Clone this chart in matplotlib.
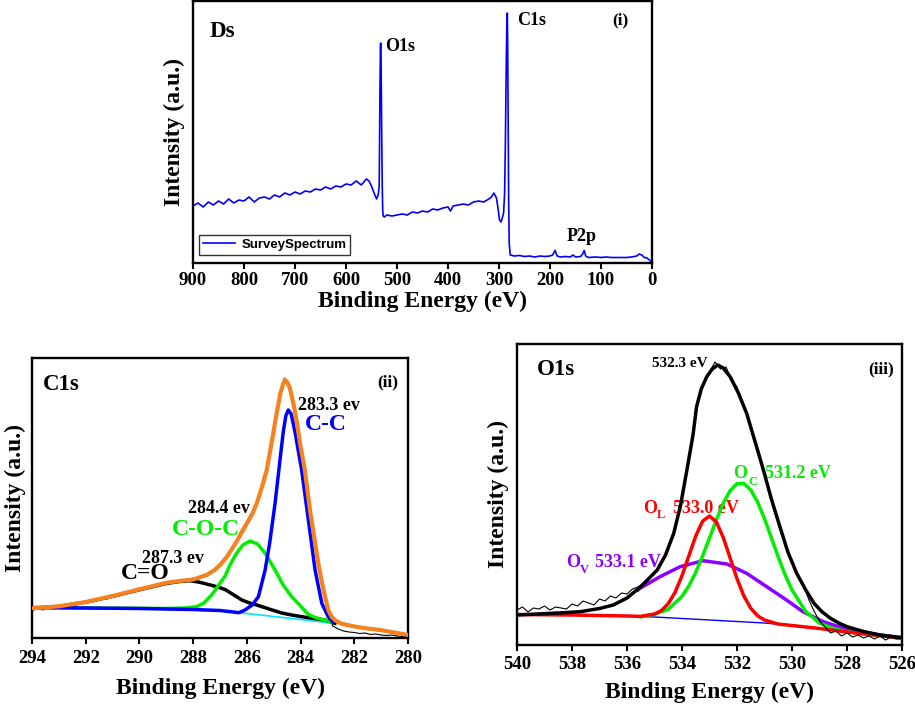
import numpy as np
import matplotlib
matplotlib.use("Agg")
import matplotlib.pyplot as plt

plt.rcParams['font.family'] = ['Liberation Serif', 'DejaVu Serif']
plt.rcParams['font.weight'] = 'bold'
plt.rcParams['axes.labelweight'] = 'bold'

# ---------------- (i) survey spectrum ----------------
survey_be = [900, 890, 880, 870, 860, 850, 840, 830, 820, 810, 800, 790, 780, 770, 760, 750,
             740, 730, 720, 710, 700, 690, 680, 670, 660, 650, 640, 630, 620, 610, 600, 590,
             580, 570, 560, 555, 550, 545, 540, 537, 535, 534.5, 533.5, 532.5, 532, 531, 530,
             529, 528, 527, 525, 520, 510, 500, 490, 480, 470, 460, 450, 440, 430, 420, 410,
             400, 395, 390, 380, 370, 360, 350, 340, 330, 320, 315, 310, 305, 302, 299, 296,
             293, 291, 289, 287.5, 286, 284.5, 283.7, 283, 282, 281, 280, 278, 270, 260, 250,
             240, 230, 220, 210, 200, 195, 190, 186, 180, 170, 160, 155, 150, 140, 136, 133,
             130, 125, 110, 100, 90, 80, 70, 60, 50, 40, 30, 25, 20, 15, 10, 5, 0]
survey_int = [57, 60, 56, 61, 58, 62, 59, 64, 60, 63, 62, 66, 61, 65, 66, 64,
              68, 66, 70, 68, 71, 69, 72, 71, 74, 73, 76, 74, 77, 76, 79, 78,
              82, 78, 84, 82, 77, 70, 64, 68, 76, 100, 170, 215, 220, 190, 130,
              80, 52, 47, 46, 48, 47, 48, 49, 48, 51, 50, 52, 51, 54, 53, 55,
              56, 52, 57, 58, 59, 58, 61, 62, 61, 64, 66, 70, 65, 55, 43, 41,
              46, 50, 70, 120, 190, 245, 250, 220, 140, 60, 20, 8, 7, 7.5, 6.5,
              7, 6, 7, 6.5, 7, 8, 12.5, 7, 6, 6.5, 6, 8, 6, 6.5, 9, 12.5,
              7, 5.5, 6, 5.5, 6, 5.5, 5.5, 5.5, 5.5, 6, 7, 9, 8, 5.5, 5, 3, 0.5]
survey_ticks = [900, 800, 700, 600, 500, 400, 300, 200, 100, 0]

# ---------------- (ii) C1s ----------------
c1s_ticks = [294, 292, 290, 288, 286, 284, 282, 280]
c1s_data_be = np.round(np.arange(294.0, 279.9, -0.2), 1)
c1s_data = [27, 30, 28, 31, 29, 32, 31, 34, 33, 36, 35, 38, 37, 40, 39, 43, 42, 45, 47, 46,
            50, 49, 52, 53, 55, 54, 57, 56, 58, 57, 60, 59, 62, 65, 67, 74, 79, 87, 97, 108,
            116, 126, 138, 155, 177, 206, 238, 260, 250, 226, 190, 160, 120, 85, 52, 27, 12,
            9, 7, 6, 5.5, 4.5, 5, 3.5, 4, 3, 2.5, 3, 2, 1.5, 1.5]
c1s_env_be = [294.0, 293.0, 292.0, 291.0, 290.0, 289.0, 288.5, 288.0, 287.5, 287.2, 287.0,
              286.75, 286.5, 286.25, 286.0, 285.8, 285.63, 285.45, 285.26, 285.08, 284.89,
              284.75, 284.65, 284.58, 284.5, 284.4, 284.27, 284.15, 284.02, 283.84, 283.65,
              283.5, 283.34, 283.2, 283.09, 282.97, 282.84, 282.7, 282.5, 282.0, 281.5, 281.0,
              280.5, 280.0]
c1s_env = [29.7, 31.7, 36, 42, 48.7, 55.2, 57, 58.5, 63, 68, 73, 81, 91.3, 102.5, 114.7, 124,
           134.7, 150, 168, 195, 224.7, 245, 254, 258, 256, 250, 234.7, 218, 194.7, 168, 128,
           102, 74.7, 55, 41.3, 28, 21, 17.5, 14.5, 11.5, 9.5, 7.8, 5.5, 3]
c1s_base_be = [294.0, 292.0, 290.0, 288.0, 287.0, 286.5, 286.0, 285.0, 284.0, 283.0, 282.7]
c1s_base = [30.5, 30.0, 29.3, 28.0, 27.0, 25.7, 24.5, 21.5, 18.5, 15.5, 14.7]
cc_be = [294.0, 290.0, 288.0, 287.0, 286.5, 286.3, 286.07, 285.8, 285.57, 285.32, 285.15,
         284.95, 284.8, 284.65, 284.55, 284.46, 284.35, 284.2, 283.96, 283.71, 283.46,
         283.21, 282.97, 282.8]
cc = [30.5, 29.5, 28.5, 27.5, 26, 25.3, 28, 33, 41.3, 68, 95, 134.7, 170, 205, 222, 228,
      224, 205, 168, 118, 68, 34.7, 21.3, 16]
coc_be = [294.0, 292.0, 290.0, 289.0, 288.3, 287.87, 287.6, 287.37, 287.2, 287.0, 286.81,
          286.63, 286.4, 286.15, 285.88, 285.6, 285.3, 284.95, 284.65, 284.33, 284.0, 283.71,
          283.4, 283.09, 282.85]
coc = [30.3, 30.0, 29.7, 29.5, 30, 31.3, 35, 41.3, 47, 54.7, 62, 73, 84, 93, 97, 94, 84, 68,
       53, 41.3, 32, 23.5, 20, 18, 16]
co_be = [294.0, 293.0, 292.0, 291.0, 290.0, 289.0, 288.5, 288.12, 287.8, 287.5, 287.12,
         286.81, 286.38, 286.19, 285.9, 285.63, 285.14, 284.7, 284.33, 284.0, 283.5, 283.09,
         282.72]
co = [29.7, 31.6, 35.8, 41.7, 48.2, 54.5, 56.5, 57.3, 56, 54, 51.3, 48.5, 41.3, 38, 35, 33,
      28.7, 25, 23, 21.5, 19.5, 18, 14.7]

# ---------------- (iii) O1s ----------------
o1s_ticks = [540, 538, 536, 534, 532, 530, 528, 526]
o1s_data_be = np.round(np.arange(540.0, 525.9, -0.2), 1)
o1s_data = [35, 38, 33, 37, 36, 39, 35, 38, 37, 36, 41, 39, 44, 42, 40, 46, 44, 49, 47, 52,
            51, 56, 58, 62, 67, 72, 80, 91, 104, 122, 148, 178, 212, 246, 262, 273, 283, 276,
            278, 265, 258, 240, 230, 206, 193, 170, 150, 130, 113, 97, 84, 70, 62, 46, 34, 24,
            18, 12, 14, 9, 12, 8, 10, 7, 9, 6, 9, 5, 8, 6, 7]
o1s_fit_be = [540, 538.5, 537.7, 537, 536.5, 536, 535.5, 534.9, 534.6, 534.3, 534.05, 533.8,
              533.6, 533.47, 533.3, 533.1, 532.9, 532.7, 532.5, 532.25, 531.95, 531.65, 531.35,
              531.04, 530.75, 530.44, 530.15, 529.83, 529.5, 529.2, 528.9, 528.6, 528.3, 528.0,
              527.4, 526.8, 526.0]
o1s_fit = [30, 32, 33.3, 36.5, 40, 47, 58.3, 75, 90, 111.7, 140, 178.3, 210, 238.3, 256,
           268.3, 276, 280, 277, 268.3, 252, 231.7, 204, 175, 146, 118.3, 93, 71.7, 55, 41.7,
           33, 26.7, 22, 18.3, 13.5, 10, 7.3]
o1s_base_be = [540, 538, 536, 535, 534, 533, 532, 531, 530, 529, 528, 527, 526]
o1s_base = [30.5, 30, 29, 28, 26.5, 25, 23.5, 22, 19.5, 16.5, 13, 10, 6.7]
ol_be = [540, 538, 536, 535.5, 535, 534.75, 534.5, 534.25, 534, 533.75, 533.5, 533.25, 533,
         532.75, 532.5, 532.25, 532, 531.75, 531.5, 531.25, 531, 530.5, 530, 529, 528, 527, 526]
ol = [30.5, 30, 29, 28.6, 31, 34.4, 41.3, 52.8, 69.3, 89.2, 109, 123.8, 129, 123, 107.5, 87,
      66.3, 49, 36.8, 29.2, 25, 20.9, 19.5, 16.5, 13, 10, 6.7]
oc_be = [535.5, 535, 534.5, 534, 533.75, 533.5, 533.25, 533, 532.75, 532.5, 532.25, 532,
         531.75, 531.5, 531.25, 531, 530.75, 530.5, 530.25, 530, 529.5, 529, 528.5, 528, 527, 526]
oc = [28.2, 30.7, 35.7, 48.6, 59.1, 72.7, 89.1, 107, 125.2, 141.7, 154.3, 161.3, 161.5, 155.1,
      142.9, 126.2, 107.3, 87.9, 70.1, 55.1, 33.4, 21.9, 16.4, 13.2, 10, 6.7]
ov_be = [535.6, 535.53, 534.8, 534.07, 533.23, 532.37, 531.65, 530.92, 530.2, 529.6, 528.86,
         528.0, 526.8, 526.0]
ov = [55, 56.7, 68.3, 78.3, 84.3, 81, 71.7, 58.3, 45, 33.3, 23.3, 15.7, 10, 7.3]

# ---------------- figure ----------------
fig = plt.figure(figsize=(9.15, 7.05), dpi=100)
W, H = 915.0, 705.0

def rect(l, t, r, b):
    return [l / W, 1 - b / H, (r - l) / W, (b - t) / H]

ax1 = fig.add_axes(rect(193, 1, 652, 263))
ax2 = fig.add_axes(rect(32, 358, 408, 638))
ax3 = fig.add_axes(rect(517, 344, 902, 645))

tickfont = dict(family='Liberation Serif', weight='bold', size=13.5)
labfont = dict(family='Liberation Serif', weight='bold', size=17)

def style(ax, ticks, xlim, ylim, tpad, lpad, ylpad):
    ax.set_xlim(*xlim)
    ax.set_ylim(*ylim)
    ax.set_xticks(ticks)
    ax.set_xticklabels([str(t) for t in ticks], fontdict=tickfont)
    ax.set_yticks([])
    for s in ax.spines.values():
        s.set_linewidth(1.7)
    ax.tick_params(axis='x', direction='out', length=4, width=1.5, pad=tpad)
    ax.set_xlabel('Binding Energy (eV)', fontdict=labfont, labelpad=lpad)
    ax.set_ylabel('Intensity (a.u.)', fontdict=labfont, labelpad=ylpad)

# (i)
ax1.plot(survey_be, survey_int, color='#0000FF', lw=1.2, label='SurveySpectrum')
style(ax1, survey_ticks, (900, 0), (0, 262), 2.5, 1, 6)
leg = ax1.legend(loc='lower left', bbox_to_anchor=(0.013, 0.031), borderaxespad=0,
                 prop=dict(family='Liberation Sans', weight='bold', size=9.5),
                 frameon=True, fancybox=False, handlelength=2.4, borderpad=0.3,
                 handletextpad=0.5)
leg.get_frame().set_edgecolor('black')
leg.get_frame().set_linewidth(1.0)
t1 = dict(transform=ax1.transAxes, va='center', ha='left', fontweight='bold')
ax1.text(0.037, 0.885, 'Ds', fontsize=16.5, **t1)
ax1.text(0.418, 0.828, 'O1s', fontsize=13, **t1)
ax1.text(0.706, 0.924, 'C1s', fontsize=13, **t1)
ax1.text(0.913, 0.927, '(i)', fontsize=12.5, **t1)
ax1.text(0.815, 0.103, 'P2p', fontsize=13, **t1)

# (ii)
ax2.plot(c1s_data_be, c1s_data, color='black', lw=0.8, zorder=2)
ax2.plot(c1s_base_be, c1s_base, color='#00E5FF', lw=1.2, zorder=3)
ax2.plot(co_be, co, color='black', lw=2.5, zorder=4)
ax2.plot(coc_be, coc, color='#00EE00', lw=2.5, zorder=5)
ax2.plot(cc_be, cc, color='#0000FF', lw=2.5, zorder=6)
ax2.plot(c1s_env_be, c1s_env, color='#F5821F', lw=3, zorder=7)
style(ax2, c1s_ticks, (294, 280), (0, 280), 4.5, 8, 4)
t2 = dict(transform=ax2.transAxes, va='center', ha='left', fontweight='bold', zorder=1)
ax2.text(0.029, 0.904, 'C1s', fontsize=16.5, **t2)
ax2.text(0.918, 0.914, '(ii)', fontsize=12.5, **t2)
ax2.text(0.707, 0.832, '283.3 ev', fontsize=13, **t2)
ax2.text(0.726, 0.761, 'C-C', fontsize=17, color='#0000FF', **t2)
ax2.text(0.415, 0.4625, '284.4 ev', fontsize=13, **t2)
ax2.text(0.372, 0.386, 'C-O-C', fontsize=17, color='#00EE00', **t2)
ax2.text(0.293, 0.284, '287.3 ev', fontsize=13, **t2)
ax2.text(0.237, 0.229, 'C=O', fontsize=17, **t2)

# (iii)
ax3.plot(o1s_base_be, o1s_base, color='#0000FF', lw=1.0, zorder=2)
ax3.plot(ov_be, ov, color='#8B00FF', lw=2.5, zorder=3)
ax3.plot(oc_be, oc, color='#00EE00', lw=2.5, zorder=4)
ax3.plot(ol_be, ol, color='#FF0000', lw=2.5, zorder=5)
ax3.plot(o1s_data_be, o1s_data, color='black', lw=0.8, zorder=6)
ax3.plot(o1s_fit_be, o1s_fit, color='black', lw=2.5, zorder=7)
style(ax3, o1s_ticks, (540, 526), (0, 301), 4, 6, 6)
t3 = dict(transform=ax3.transAxes, va='center', ha='left', fontweight='bold', zorder=1)
ax3.text(0.052, 0.915, 'O1s', fontsize=16.5, **t3)
ax3.text(0.351, 0.934, '532.3 eV', fontsize=11, **t3)
ax3.text(0.912, 0.915, '(iii)', fontsize=12.5, **t3)
green, red, purple = '#00EE00', '#FF0000', '#8B00FF'
ax3.text(0.562, 0.570, 'O', fontsize=13, color=green, **t3)
ax3.text(0.602, 0.540, 'C', fontsize=9, color=green, **t3)
ax3.text(0.644, 0.570, '531.2 eV', fontsize=13, color=green, **t3)
ax3.text(0.328, 0.455, 'O', fontsize=13, color=red, **t3)
ax3.text(0.363, 0.432, 'L', fontsize=9, color=red, **t3)
ax3.text(0.406, 0.455, '533.0 eV', fontsize=13, color=red, **t3)
ax3.text(0.127, 0.274, 'O', fontsize=13, color=purple, **t3)
ax3.text(0.164, 0.249, 'V', fontsize=9, color=purple, **t3)
ax3.text(0.203, 0.274, '533.1 eV', fontsize=13, color=purple, **t3)

fig.savefig('out.png', dpi=100)
